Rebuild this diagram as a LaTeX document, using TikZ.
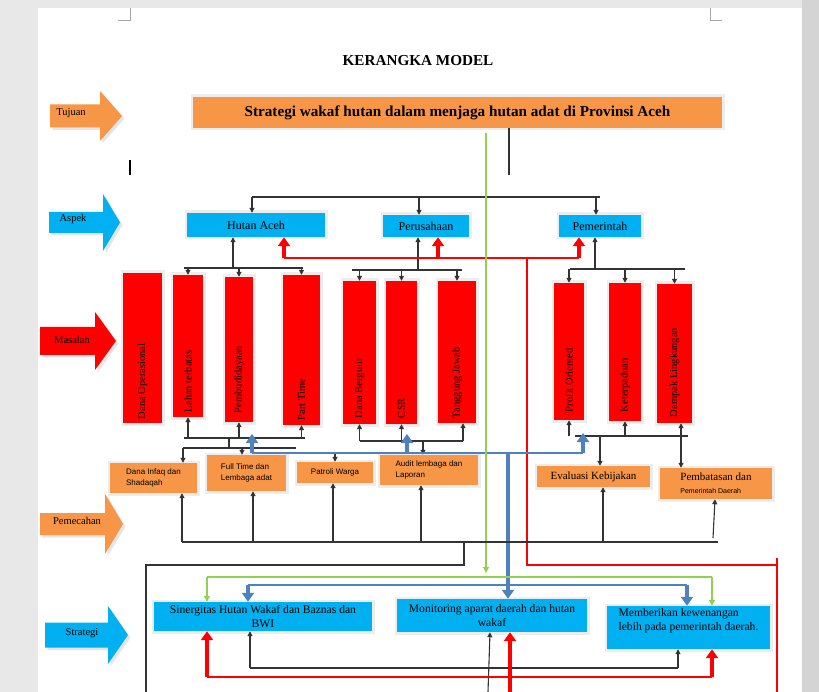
\documentclass[tikz,border=0pt]{standalone}
\usepackage{fontspec}
\setmainfont{Liberation Serif}
\newfontfamily\smallsans{Liberation Sans}
\usetikzlibrary{arrows.meta}
\definecolor{oren}{HTML}{F79646}
\definecolor{biru}{HTML}{00B0F0}
\definecolor{merah}{HTML}{FF0000}
\definecolor{bajabiru}{HTML}{4F81BD}
\definecolor{hijau}{HTML}{92D050}
\tikzset{
  frame/.style={preaction={draw=black!7, line width=5pt}},
  bevel/.style={preaction={fill=black!10, transform canvas={shift={(2.5pt,-2.5pt)}}}},
  topbox/.style={frame, fill=oren, inner sep=0pt, font=\fontsize{15.2}{17}\selectfont\bfseries},
  aspekbox/.style={frame, fill=biru, inner sep=0pt, font=\fontsize{12}{14}\selectfont},
  masalah/.style={frame, fill=merah, inner sep=0pt},
  vtext/.style={rotate=90, anchor=west, inner sep=0pt, font=\fontsize{10.5}{12}\selectfont},
  pecah/.style={frame, fill=oren, inner sep=0pt, align=left, font=\smallsans\fontsize{8}{11}\selectfont},
  strategibox/.style={frame, fill=biru, inner sep=0pt, align=center, font=\fontsize{11.6}{13.5}\selectfont},
  sidelabel/.style={inner sep=0pt, font=\fontsize{10.5}{12}\selectfont},
  ln/.style={draw=black!80, line width=1.1pt},
  arr/.style={ln, -{Triangle[length=5pt,width=5pt]}},
  redln/.style={draw=merah, line width=1.2pt},
  redarr/.style={draw=merah, line width=3.4pt, -{Triangle[length=9pt,width=12pt]}},
  blueln/.style={draw=bajabiru, line width=1.3pt},
  bluearr/.style={draw=bajabiru, line width=3.4pt, -{Triangle[length=9pt,width=12pt]}},
  greenln/.style={draw=hijau, line width=1.1pt},
  greenarr/.style={greenln, -{Triangle[length=6pt,width=6pt]}}
}

\begin{document}
\begin{tikzpicture}[x=1pt,y=-1pt]
\useasboundingbox (0,0) rectangle (819,692);
% page
\fill[black!9] (0,0) rectangle (819,692);
\fill[black!17] (802,0) rectangle (819,692);
\fill[white] (38,8) rectangle (802,692);
\draw[black!35, line width=0.6pt] (130,8) -- (130,20) -- (118,20);
\draw[black!35, line width=0.6pt] (710,8) -- (710,20) -- (722,20);
\draw[line width=1.6pt] (130,160) -- (130,175);

\node[font=\fontsize{15.2}{17}\selectfont\bfseries] (judul) at (418,61) {KERANGKA MODEL};

% side arrows
\fill[oren, bevel] (50,104.5) -- (100,104.5) -- (100,91) -- (122,116) -- (100,141) -- (100,127.5) -- (50,127.5) -- cycle;
\node[sidelabel] (tujuan) at (71,113) {Tujuan};
\fill[biru, bevel] (49,212) -- (103,212) -- (103,194) -- (120,222.5) -- (103,251) -- (103,233) -- (49,233) -- cycle;
\node[sidelabel] (aspek) at (73,219) {Aspek};
\fill[merah, bevel] (40,327) -- (95,327) -- (95,312) -- (116,341) -- (95,370) -- (95,355) -- (40,355) -- cycle;
\node[sidelabel] (masalah) at (72,340) {Masalah};
\fill[oren, bevel] (40,513) -- (105,513) -- (105,494) -- (123,524) -- (105,554) -- (105,535) -- (40,535) -- cycle;
\node[sidelabel] (pemecahan) at (77,521) {Pemecahan};
\fill[biru, bevel] (45,622.5) -- (108,622.5) -- (108,606) -- (128,635) -- (108,664) -- (108,647.5) -- (45,647.5) -- cycle;
\node[sidelabel] (strategi) at (82,633) {Strategi};

% tujuan dan aspek
\node[topbox, minimum width=529, minimum height=31] (tujuanbox) at (457.5,112.5) {Strategi wakaf hutan dalam menjaga hutan adat di Provinsi Aceh};
\node[aspekbox, minimum width=138, minimum height=24] (hutan) at (256,225) {Hutan Aceh};
\node[aspekbox, minimum width=86, minimum height=22] (perusahaan) at (426,226) {Perusahaan};
\node[aspekbox, minimum width=82, minimum height=22] (pemerintah) at (600,226) {Pemerintah};

% masalah
\node[masalah, minimum width=39, minimum height=150] (dana) at (142.5,348) {};
\node[vtext] (dana-t) at ([yshift=4pt]dana.south) {Dana Operasional};
\node[masalah, minimum width=30, minimum height=142] (lahan) at (188,346) {};
\node[vtext] (lahan-t) at ([yshift=5pt]lahan.south) {Lahan terbatas};
\node[masalah, minimum width=28, minimum height=145] (budidaya) at (239,349.5) {};
\node[vtext] (budidaya-t) at ([yshift=9pt]budidaya.south) {Pembudidayaan};
\node[masalah, minimum width=37, minimum height=150] (parttime) at (301.5,350) {};
\node[vtext] (parttime-t) at ([yshift=5pt]parttime.south) {Part Time};
\node[masalah, minimum width=33, minimum height=143] (bergulir) at (359.5,352.5) {};
\node[vtext] (bergulir-t) at ([yshift=6pt]bergulir.south) {Dana Bergulir};
\node[masalah, minimum width=31, minimum height=143] (csr) at (401.5,352.5) {};
\node[vtext] (csr-t) at ([yshift=6pt]csr.south) {CSR};
\node[masalah, minimum width=38, minimum height=142] (tanggung) at (457,352) {};
\node[vtext] (tanggung-t) at ([yshift=5pt]tanggung.south) {Tanggung Jawab};
\node[masalah, minimum width=30, minimum height=137] (profit) at (569,351.5) {};
\node[vtext] (profit-t) at ([yshift=8pt]profit.south) {Profit Oriented};
\node[masalah, minimum width=32, minimum height=138] (terpadu) at (625,352) {};
\node[vtext] (terpadu-t) at ([yshift=9pt]terpadu.south) {Keterpaduan};
\node[masalah, minimum width=35, minimum height=139] (dampak) at (674.5,353.5) {};
\node[vtext] (dampak-t) at ([yshift=6pt]dampak.south) {Dampak Lingkungan};

% pemecahan
\node[pecah, minimum width=87, minimum height=30] (infaq) at (153.5,478) {Dana Infaq dan\\Shadaqah};
\node[pecah, minimum width=79, minimum height=36] (fulltime) at (246.5,473) {Full Time dan\\Lembaga adat};
\node[pecah, minimum width=76, minimum height=21] (patroli) at (335,472.5) {Patroli Warga};
\node[pecah, minimum width=98, minimum height=30] (audit) at (429,470) {Audit lembaga dan\\Laporan};
\node[pecah, font=\fontsize{11}{13}\selectfont, minimum width=113, minimum height=21] (evaluasi) at (593.5,476.5) {Evaluasi Kebijakan};
\node[pecah, font=\fontsize{11}{13}\selectfont, minimum width=112, minimum height=31] (batas) at (716,483.5) {Pembatasan dan\\{\smallsans\fontsize{7}{9}\selectfont Pemerintah Daerah}};

% strategi
\node[strategibox, minimum width=218, minimum height=29] (sinergi) at (263,616.5) {Sinergitas Hutan Wakaf dan Baznas dan\\BWI};
\node[strategibox, minimum width=190, minimum height=33] (monitor) at (492,615.5) {Monitoring aparat daerah dan hutan\\wakaf};
\node[strategibox, align=left, minimum width=163, minimum height=43] (memberi) at (688.5,627.5) {Memberikan kewenangan\\lebih pada pemerintah daerah.\\[3pt]};

% tujuan ke aspek
\coordinate (t0) at (509,175);
\draw[ln] (t0 |- tujuanbox.south) -- (t0);
\coordinate (a1) at (252,197);
\coordinate (a2) at (419,197);
\coordinate (a3) at (596,197);
\draw[ln] (a1) -- (600,197);
\draw[arr] (a1) -- (a1 |- hutan.north);
\draw[arr] (a2) -- (a2 |- perusahaan.north);
\draw[arr] (a3) -- (a3 |- pemerintah.north);

% aspek ke masalah
\coordinate (h0) at (233,268);
\draw[arr] (h0) -- (h0 |- hutan.south);
\draw[ln] (184,268) -- (303,268);
\draw[arr] (lahan.north |- h0) -- (lahan.north);
\draw[arr] (budidaya.north |- h0) -- (budidaya.north);
\draw[arr] (parttime.north |- h0) -- (parttime.north);
\coordinate (p0) at (418,270);
\draw[arr] (p0) -- (p0 |- perusahaan.south);
\draw[ln] (352,270) -- (462,270);
\draw[arr] (bergulir.north |- p0) -- (bergulir.north);
\draw[arr] (csr.north |- p0) -- (csr.north);
\draw[arr] (tanggung.north |- p0) -- (tanggung.north);
\coordinate (g0) at (595,269);
\draw[arr] (g0) -- (g0 |- pemerintah.south);
\draw[ln] (570,269) -- (685,269);
\draw[arr] (profit.north |- g0) -- (profit.north);
\draw[arr] (terpadu.north |- g0) -- (terpadu.north);
\draw[arr] (dampak.north |- g0) -- (dampak.north);

% garis merah
\coordinate (r1) at (284,258);
\coordinate (r2) at (438,258);
\coordinate (r3) at (579,258);
\draw[redln] (r1) -- (r3);
\draw[redarr] (r1) -- (r1 |- hutan.south);
\draw[redarr] (r2) -- (r2 |- perusahaan.south);
\draw[redarr] (r3) -- (r3 |- pemerintah.south);
\draw[redln] (527,258) -- (527,565) -- (777,565);
\draw[redln] (777,558) -- (777,692);

% masalah ke pemecahan
\coordinate (hb) at (229,438);
\coordinate (hc) at (229,448);
\draw[ln] (184,438) -- (305,438);
\draw[arr] (lahan.south |- hb) -- (lahan.south);
\draw[arr] (budidaya.south |- hb) -- (budidaya.south);
\draw[arr] (parttime.south |- hb) -- (parttime.south);
\draw[ln] (hb) -- (hc);
\draw[ln] (183,448) -- (296,448);
\coordinate (hd) at (183,448);
\coordinate (he) at (242,448);
\draw[arr] (hd) -- (hd |- infaq.north);
\draw[arr] (he) -- (he |- fulltime.north);
\coordinate (pb) at (423,441);
\coordinate (pt) at (463,441);
\draw[ln] (bergulir.south |- pb) -- (pt);
\draw[arr] (bergulir.south |- pb) -- (bergulir.south);
\draw[arr] (csr.south |- pb) -- (csr.south);
\draw[arr] (pt) -- (pt |- tanggung.south);
\draw[arr] (pb) -- (pb |- audit.north);
\coordinate (pc) at (335,453);
\draw[arr] (pc) -- (patroli.north);
\coordinate (gb) at (600,436);
\coordinate (gc) at (681,436);
\draw[ln] (575,436) -- (688,436);
\draw[arr] (profit.south |- gb) -- (profit.south);
\draw[arr] (terpadu.south |- gb) -- (terpadu.south);
\draw[arr] (gc) -- (gc |- dampak.south);
\draw[arr] (gb) -- (gb |- evaluasi.north);
\draw[arr] (gc) -- (gc |- batas.north);

% garis biru
\coordinate (b1) at (252,453);
\coordinate (b2) at (407,453);
\coordinate (b3) at (583,453);
\coordinate (b4) at (508,453);
\draw[blueln] (b1) -- (b3);
\draw[bluearr] (b1) -- (252,434);
\draw[bluearr] (b2) -- (407,434);
\draw[bluearr] (b3) -- (583,433);
\draw[bluearr] (b4) -- (b4 |- monitor.north);
\coordinate (b5) at (248,585);
\coordinate (b6) at (687,585);
\draw[blueln] (b5) -- (b6);
\draw[bluearr] (b5) -- (b5 |- sinergi.north);
\draw[bluearr] (b6) -- (b6 |- memberi.north);

% garis hijau
\coordinate (g1) at (486,133);
\draw[greenarr] (g1) -- (486,573);
\coordinate (g2) at (207,577);
\coordinate (g3) at (712,577);
\draw[greenln] (g2) -- (g3);
\draw[greenarr] (g2) -- (g2 |- sinergi.north);
\draw[greenarr] (g3) -- (g3 |- memberi.north);

% pemecahan dari bawah
\coordinate (s0) at (464,542);
\draw[ln] (182,542) -- (718,542);
\coordinate (s1) at (182,542);
\coordinate (s2) at (253,542);
\coordinate (s3) at (333,542);
\coordinate (s4) at (421,542);
\coordinate (s5) at (603,542);
\draw[arr] (s1) -- (s1 |- infaq.south);
\draw[arr] (s2) -- (s2 |- fulltime.south);
\draw[arr] (s3) -- (s3 |- patroli.south);
\draw[arr] (s4) -- (s4 |- audit.south);
\draw[arr] (s5) -- (s5 |- evaluasi.south);
\draw[arr] (713,538) -- (batas.south -| 715,0);
\draw[ln] (s0) -- (464,565) -- (146,565) -- (146,692);

% strategi dari bawah
\coordinate (k1) at (250,668);
\coordinate (k2) at (678,668);
\coordinate (k3) at (488,692);
\draw[ln] (k1) -- (k2);
\draw[arr] (k1) -- (k1 |- sinergi.south);
\draw[arr] (k2) -- (k2 |- memberi.south);
\draw[arr] (k3) -- (monitor.south -| 490,0);
\coordinate (m1) at (207,677);
\coordinate (m2) at (712,677);
\coordinate (m3) at (510,692);
\draw[redln] (m1) -- (m2);
\draw[redarr] (m1) -- (m1 |- sinergi.south);
\draw[redarr] (m2) -- (m2 |- memberi.south);
\draw[redarr] (m3) -- (m3 |- monitor.south);
\end{tikzpicture}
\end{document}
